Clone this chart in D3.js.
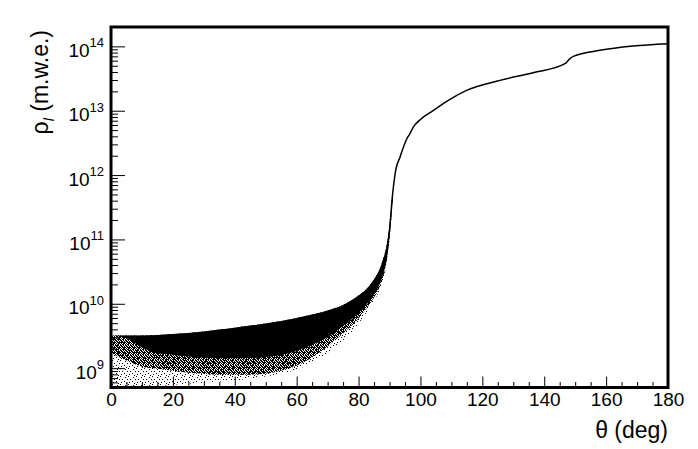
<!DOCTYPE html>
<html>
<head>
<meta charset="utf-8">
<script src="https://cdn.jsdelivr.net/npm/d3@7"></script>
<style>
  body { margin: 0; background: #fff; }
  svg { display: block; font-family: "Liberation Sans", Arial, Helvetica, sans-serif; }
</style>
</head>
<body>
<svg id="chart" width="698" height="449"></svg>
<script>
// envelope of the scatter band, theta in deg, rho in m.w.e.
const theta = [0, 5, 10, 15, 20, 25, 30, 35, 40, 45, 50, 55, 60, 65, 70, 75, 80, 83, 85, 87, 88, 89, 90, 91];
const bandUpper = [3.20e9, 3.20e9, 3.20e9, 3.26e9, 3.38e9, 3.50e9, 3.70e9, 3.97e9, 4.26e9, 4.58e9, 4.92e9, 5.38e9,
  5.99e9, 6.79e9, 7.84e9, 9.54e9, 1.34e10, 1.79e10, 2.38e10, 3.66e10, 5.05e10, 7.76e10, 1.65e11, 5.76e11];
const bandDense = [3.20e9, 2.90e9, 2.10e9, 1.70e9, 1.62e9, 1.52e9, 1.46e9, 1.42e9, 1.42e9, 1.44e9, 1.49e9, 1.60e9,
  1.85e9, 2.30e9, 3.05e9, 4.50e9, 7.20e9, 1.03e10, 1.38e10, 2.12e10, 2.92e10, 4.65e10, 1.10e11, 4.30e11];
const bandMid = [1.74e9, 1.31e9, 1.055e9, 9.82e8, 9.14e8, 8.51e8, 8.21e8, 7.92e8, 7.92e8, 7.92e8, 8.21e8, 9.14e8,
  1.09e9, 1.46e9, 2.16e9, 3.44e9, 5.89e9, 9.05e9, 1.25e10, 1.92e10, 2.65e10, 4.37e10, 1.03e11, 4.03e11];
const bandSparse = [4.8e8, 4.8e8, 5.0e8, 5.2e8, 5.54e8, 5.74e8, 5.95e8, 6.17e8, 6.39e8, 6.87e8, 7.38e8, 8.21e8,
  9.48e8, 1.22e9, 1.74e9, 2.68e9, 4.92e9, 7.84e9, 1.12e10, 1.72e10, 2.47e10, 4.07e10, 9.61e10, 3.75e11];

// thin curve above 90 deg
const curveTheta = [89, 90, 91, 92, 93.4, 95.6, 96.6, 97.7, 100, 104.2, 109, 114.9, 125.7, 136.4, 146.7, 148.3, 149.4, 158, 168.7, 180];
const curveRho = [6.0e10, 1.38e11, 5.0e11, 1.18e12, 1.90e12, 3.67e12, 4.39e12, 5.56e12, 7.32e12, 1.01e13, 1.45e13, 2.07e13,
  2.96e13, 3.90e13, 5.38e13, 6.44e13, 6.99e13, 8.67e13, 1.01e14, 1.10e14];

const xMajor = [0, 20, 40, 60, 80, 100, 120, 140, 160, 180];
const yDecades = [1e9, 1e10, 1e11, 1e12, 1e13, 1e14];

var svg = d3.select("#chart"),
    padL = 111, padR = 668, padT = 27, padB = 387.5;

var x = d3.scaleLinear().domain([0, 180]).range([padL, padR]);
var y = d3.scaleLog().domain([5e8, 2e14]).range([padB, padT]);

var defs = svg.append("defs");
defs.append("clipPath").attr("id", "plot")
  .append("rect").attr("x", padL).attr("y", padT).attr("width", padR - padL).attr("height", padB - padT);

// dither textures for the thinner parts of the scatter
function dots(id, size, pts) {
  var p = defs.append("pattern").attr("id", id).attr("patternUnits", "userSpaceOnUse")
    .attr("width", size).attr("height", size);
  pts.forEach(function(d) {
    p.append("rect").attr("x", d[0]).attr("y", d[1]).attr("width", 1).attr("height", 1).attr("fill", "#000");
  });
}
dots("mid", 5, [[0,0],[1,0],[3,0],[1,1],[2,1],[4,1],[0,2],[2,2],[3,2],[4,2],[1,3],[3,3],[4,3],[0,4],[2,4],[3,4]]);
dots("sparse", 8, [[0,0],[5,1],[2,3],[7,3],[4,5],[1,6],[6,7]]);

var band = theta.map(function(t, i) {
  return {t: t, up: bandUpper[i], dense: bandDense[i], mid: bandMid[i], sparse: bandSparse[i]};
});

function area(key) {
  return d3.area().curve(d3.curveMonotoneX)
    .x(function(d) { return x(d.t); })
    .y0(function(d) { return y(d[key]); })
    .y1(function(d) { return y(d.up); });
}

var g = svg.append("g").attr("clip-path", "url(#plot)");
g.append("path").datum(band).attr("d", area("sparse")).attr("fill", "url(#sparse)");
g.append("path").datum(band).attr("d", area("mid")).attr("fill", "url(#mid)");
g.append("path").datum(band).attr("d", area("dense")).attr("fill", "#000");

var line = d3.line().curve(d3.curveMonotoneX)
  .x(function(d) { return x(d[0]); })
  .y(function(d) { return y(d[1]); });
g.append("path").datum(curveTheta.map(function(t, i) { return [t, curveRho[i]]; }))
  .attr("d", line).attr("fill", "none").attr("stroke", "#000").attr("stroke-width", 1.5);

// x axis, ticks pointing inward
var xMinor = d3.range(0, 181, 5).filter(function(v) { return v % 20 != 0; });
svg.append("g").attr("transform", "translate(0," + padB + ")")
  .call(d3.axisBottom(x).tickValues(xMinor).tickSize(-5.5).tickFormat(""))
  .call(function(a) { a.select(".domain").remove(); });
svg.append("g").attr("transform", "translate(0," + padB + ")")
  .call(d3.axisBottom(x).tickValues(xMajor).tickSize(-11).tickPadding(5))
  .call(function(a) { a.select(".domain").remove(); })
  .attr("font-family", null).attr("font-size", 19);

// y axis, log
var yMinor = [];
[8, 9, 10, 11, 12, 13, 14].forEach(function(e) {
  for (var k = 2; k <= 9; k++) {
    var v = k * Math.pow(10, e);
    if (v >= 5e8 && v <= 2e14) yMinor.push(v);
  }
});
svg.append("g").attr("transform", "translate(" + padL + ",0)")
  .call(d3.axisLeft(y).tickValues(yMinor).tickSize(-7).tickFormat(""))
  .call(function(a) { a.select(".domain").remove(); });
var ya = svg.append("g").attr("transform", "translate(" + padL + ",0)")
  .call(d3.axisLeft(y).tickValues(yDecades).tickSize(-14).tickPadding(7))
  .call(function(a) { a.select(".domain").remove(); })
  .attr("font-family", null).attr("font-size", 19);
ya.selectAll("text").attr("dy", null).attr("y", 10)
  .text(null)
  .each(function(d) {
    var t = d3.select(this);
    t.append("tspan").text("10");
    t.append("tspan").attr("font-size", 13).attr("dy", -9.5).text(Math.round(Math.log10(d)));
  });

// frame
svg.append("rect").attr("x", padL).attr("y", padT).attr("width", padR - padL).attr("height", padB - padT)
  .attr("fill", "none").attr("stroke", "#000").attr("stroke-width", 3);

// titles
svg.append("text").attr("x", padR).attr("y", 438).attr("text-anchor", "end")
  .attr("font-size", 23).text("θ (deg)");

var yt = svg.append("text").attr("transform", "translate(48,30) rotate(-90)")
  .attr("text-anchor", "end").attr("font-size", 23);
yt.append("tspan").text("ρ");
yt.append("tspan").attr("font-size", 14).attr("font-style", "italic").attr("dy", 6).text("l");
yt.append("tspan").attr("dy", -6).text(" (m.w.e.)");
</script>
</body>
</html>
